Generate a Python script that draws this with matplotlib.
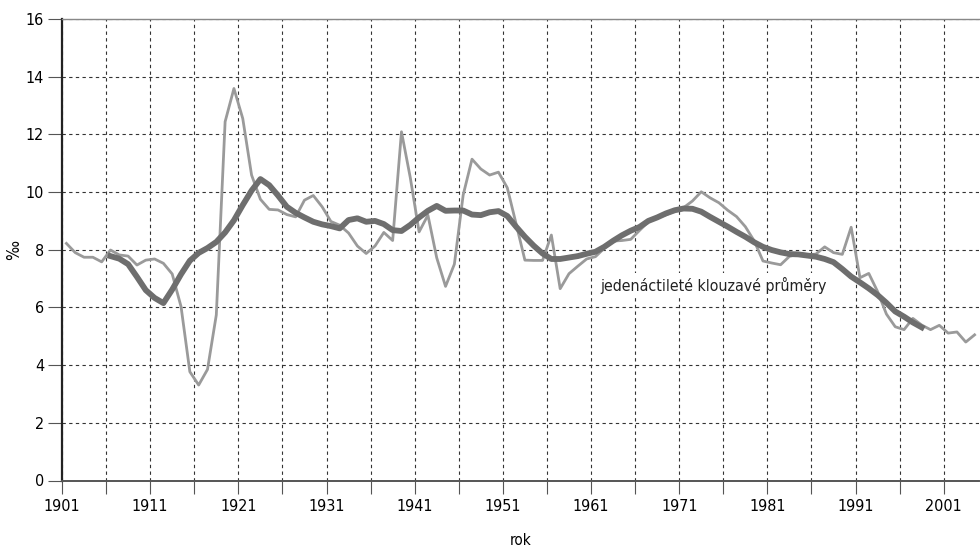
import matplotlib
matplotlib.use("Agg")
import matplotlib.pyplot as plt
from matplotlib import font_manager

years = list(range(1901, 2005))
rate = [8.22, 7.90, 7.74, 7.74, 7.58, 7.99, 7.82, 7.78, 7.47, 7.64,
        7.68, 7.53, 7.16, 6.03, 3.77, 3.31, 3.85, 5.74, 12.44, 13.59,
        12.55, 10.59, 9.75, 9.40, 9.38, 9.22, 9.14, 9.72, 9.88, 9.49,
        8.98, 8.85, 8.58, 8.13, 7.87, 8.13, 8.60, 8.32, 12.09, 10.50,
        8.62, 9.20, 7.72, 6.73, 7.50, 9.90, 11.14, 10.80, 10.59, 10.69,
        10.15, 8.90, 7.64, 7.63, 7.63, 8.51, 6.65, 7.17, 7.43, 7.68,
        7.76, 8.05, 8.30, 8.32, 8.36, 8.67, 8.97, 9.11, 9.21, 9.34,
        9.46, 9.69, 10.01, 9.80, 9.63, 9.37, 9.15, 8.80, 8.31, 7.61,
        7.54, 7.48, 7.77, 7.85, 7.82, 7.85, 8.10, 7.90, 7.84, 8.78,
        7.03, 7.18, 6.55, 5.77, 5.33, 5.23, 5.62, 5.39, 5.23, 5.38,
        5.11, 5.15, 4.80, 5.05]

ma_years = list(range(1906, 1999))
ma = [7.78, 7.69, 7.50, 7.06, 6.60, 6.33, 6.15, 6.62, 7.15, 7.62,
      7.89, 8.06, 8.27, 8.60, 9.02, 9.55, 10.05, 10.45, 10.24, 9.88,
      9.49, 9.28, 9.12, 8.97, 8.88, 8.82, 8.74, 9.03, 9.09, 8.97,
      9.00, 8.89, 8.68, 8.65, 8.86, 9.12, 9.35, 9.52, 9.35, 9.36,
      9.36, 9.22, 9.20, 9.30, 9.34, 9.17, 8.80, 8.45, 8.14, 7.87,
      7.68, 7.68, 7.73, 7.78, 7.86, 7.93, 8.10, 8.31, 8.50, 8.66,
      8.79, 9.00, 9.12, 9.26, 9.37, 9.43, 9.42, 9.32, 9.14, 8.97,
      8.80, 8.62, 8.45, 8.26, 8.10, 7.99, 7.91, 7.85, 7.84, 7.80,
      7.76, 7.68, 7.57, 7.33, 7.07, 6.87, 6.66, 6.43, 6.16, 5.86,
      5.68, 5.48, 5.31]

tick_labels = [str(y) for y in range(1901, 2002, 10)]
ma_label = "jedenáctileté klouzavé průměry"


def main():
    # narrow font if there is one, like the original
    fonts = font_manager.fontManager.ttflist
    if any(f.name == "DejaVu Sans" and f.stretch == "condensed" for f in fonts):
        plt.rcParams['font.family'] = ['DejaVu Sans']
        plt.rcParams['font.stretch'] = 'condensed'
        fs = 11
    else:
        plt.rcParams['font.family'] = ['Liberation Sans', 'DejaVu Sans']
        fs = 10.5

    fig = plt.figure(figsize=(9.8, 5.55), dpi=100)
    ax = fig.add_axes([62 / 980, 74.5 / 555, 917 / 980, 461.5 / 555])

    ax.plot(years, rate, color="#9a9a9a", lw=2.0, zorder=3)
    ax.plot(ma_years, ma, color="#6e6e6e", lw=4.2, zorder=4,
            solid_joinstyle="round")

    # categories sit between the ticks, so ticks are at year - 0.5
    ax.set_xlim(1900.5, 2004.5)
    ax.set_ylim(0, 16)
    ax.set_xticks([int(t) - 0.5 for t in tick_labels])
    ax.set_xticklabels(tick_labels)
    ax.set_xticks([y - 0.5 for y in range(1906, 2002, 10)], minor=True)
    ax.set_yticks(range(0, 17, 2))

    ax.grid(True, which="both", axis="x", color="#333333", lw=0.8,
            ls=(0, (3, 3)))
    ax.grid(True, which="major", axis="y", color="#333333", lw=0.8,
            ls=(0, (3, 3)))
    ax.set_axisbelow(True)

    ax.tick_params(axis="x", which="both", direction="out", length=9,
                   width=0.8, color="#555555", labelsize=fs + 0.5, pad=4)
    ax.tick_params(axis="y", direction="out", length=10, width=0.8,
                   color="#555555", labelsize=fs + 0.5, pad=3)

    ax.spines["left"].set_color("#222222")
    ax.spines["left"].set_linewidth(1.6)
    ax.spines["bottom"].set_color("#555555")
    ax.spines["bottom"].set_linewidth(1.4)
    ax.spines["top"].set_color("#888888")
    ax.spines["top"].set_linewidth(1.0)
    ax.spines["right"].set_visible(False)

    ax.set_xlabel("rok", fontsize=fs, labelpad=14)
    ax.set_ylabel("‰", fontsize=fs + 1, labelpad=2)

    ax.text(1961.5, 6.75, ma_label, fontsize=fs + 0.4, va="center",
            ha="left", color="#222222", zorder=5,
            bbox=dict(facecolor="white", edgecolor="none", pad=3))

    fig.savefig("out.png", dpi=100)


if __name__ == "__main__":
    main()
